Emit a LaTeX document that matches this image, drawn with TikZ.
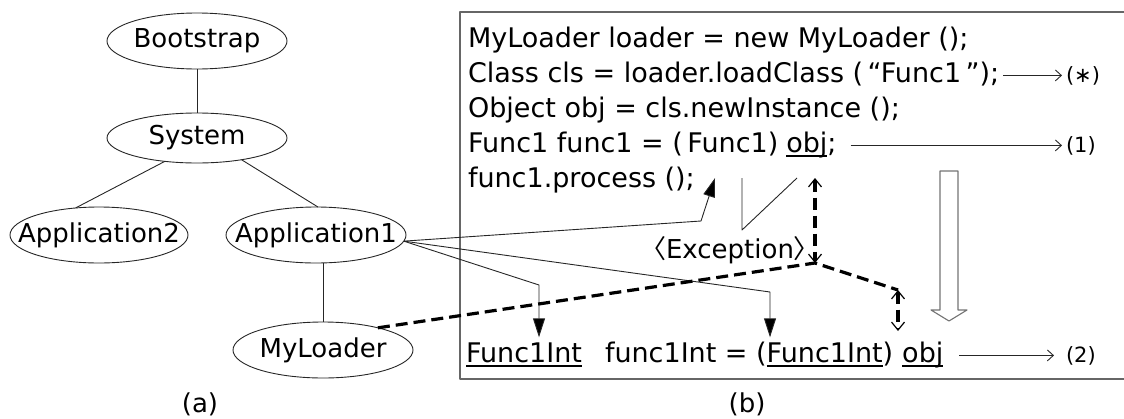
\documentclass[tikz,border=0pt]{standalone}
\usepackage{fontspec}
\setmainfont{DejaVu Sans}
\newfontfamily\jpfont{Noto Sans CJK JP}
\usetikzlibrary{shapes.geometric,arrows.meta,calc}
\newcommand\codefont{\fontsize{27pt}{31pt}\selectfont}
\newcommand\treefont{\fontsize{26pt}{30pt}\selectfont}
\newcommand\tagfont{\fontsize{21pt}{25pt}\selectfont}
\begin{document}
\begin{tikzpicture}[x=1pt,y=-1pt,line join=round,
  every node/.style={inner sep=0pt,outer sep=0pt},
  code/.style={font=\codefont,anchor=base west},
  tag/.style={font=\tagfont,anchor=base west},
  cls/.style={ellipse,draw=black!85,line width=0.9pt,font=\treefont,
    minimum width=180pt,minimum height=56pt},
  edge/.style={draw=black!85,line width=0.9pt},
  frame/.style={draw=black!60,line width=1.1pt},
  pointer/.style={edge,-{Straight Barb[length=6pt,width=11pt]}},
  push/.style={edge,-{Triangle[length=19pt,width=12pt,fill=black]}},
  dashlink/.style={draw=black,line width=3.2pt,dash pattern=on 12pt off 6pt},
  dashtips/.style={dashlink,
    {Straight Barb[length=8pt,width=13pt,line width=1.2pt]}-{Straight Barb[length=8pt,width=13pt,line width=1.2pt]}},
  uline/.style={draw=black,line width=1.5pt},
  hollow/.style={draw=black!55,line width=1.1pt}]
\useasboundingbox (0,0) rectangle (1124,418);

% class loader hierarchy
\node[cls] (boot) at (197,41) {\makebox[0pt]{Bootstrap}};
\node[cls,minimum height=50pt] (sys) at (197,138) {\makebox[0pt]{System}};
\node[cls,minimum width=178pt] (app2) at (99,235) {\makebox[0pt]{Application2}};
\node[cls] (app1) at (316,235) {\makebox[0pt]{Application1}};
\node[cls] (myl) at (323,350) {\makebox[0pt]{MyLoader}};
\draw[edge] (boot) -- (sys);
\draw[edge] (sys.216) -- (app2.131);
\draw[edge] (sys.334) -- (app1.86);
\draw[edge] (myl.north) -- (myl.north |- app1.south);
\node[font=\treefont] (capa) at (200,404) {(a)};

% code panel
\draw[frame] (1124,12) -- (460,12) -- (460,379) -- (1124,379);
\node[code] (l1) at (468,47) {MyLoader loader = new MyLoader ();};
\node[code] (l2) at (468,82) {Class cls = loader.loadClass (\,“Func1\,”);};
\node[code] (l3) at (468,117) {Object obj = cls.newInstance ();};
\node[code] (l4) at (468,152) {Func1 func1 = (\,Func1)};
\node[code] (obja) at ([xshift=8pt]l4.base east) {obj};
\node[code] (semi) at (obja.base east) {;};
\node[code] (l5) at (468,187) {func1.process ();};
\node[code,font=\treefont] (exc) at (640,258) {{\jpfont 〈}Exception{\jpfont 〉}};

\node[code] (fa) at (466,362) {Func1Int};
\node[code] (mid) at (605,362) {func1Int = (};
\node[code] (fb) at (mid.base east) {Func1Int};
\node[code] (rp) at (fb.base east) {)};
\node[code] (objb) at ([xshift=9pt]rp.base east) {obj};

\node[tag] (tstar) at (1066,82) {(∗)};
\node[tag] (tone) at (1066,152) {(1)};
\node[tag] (ttwo) at (1066,362) {(2)};
\node[font=\treefont] (capb) at (747,404) {(b)};

% underlined names
\draw[uline] ($(obja.base west)+(0,4)$) -- ($(obja.base east)+(0,4)$);
\draw[uline] ($(fa.base west)+(0,4)$) -- ($(fa.base east)+(0,4)$);
\draw[uline] ($(fb.base west)+(0,4)$) -- ($(fb.base east)+(0,4)$);
\draw[uline] ($(objb.base west)+(0,4)$) -- ($(objb.base east)+(0,4)$);

% result arrows
\draw[pointer] ([xshift=4pt]l2.east |- tstar.west) -- ([xshift=-4pt]tstar.west);
\draw[pointer] ($(semi.east |- tone.west)+(14,0)$) -- ([xshift=-4pt]tone.west);
\draw[pointer] ($(objb.east |- ttwo.west)+(16,0)$) -- ([xshift=-12pt]ttwo.west);

% calls from Application1
\coordinate (a0) at (app1.-4);
\coordinate (bend1) at (539,285);
\coordinate (bend2) at (770,292);
\coordinate (bend3) at (701,221);
\coordinate (tip3) at (715,178);
\draw[push] (a0) -- (bend1) -- ([yshift=5pt]bend1 |- fa.north);
\draw[push] (a0) -- (bend2) -- ([yshift=5pt]bend2 |- fb.north);
\draw[push] (a0) -- (bend3) -- (tip3);

% cast failure bracket
\coordinate (v1) at (742,178);
\coordinate (v2) at (742,230);
\coordinate (v3) at (797,178);
\draw[edge] (v1) -- (v2) -- (v3);

% loader link
\coordinate (J) at (815,263);
\coordinate (K) at (898,290);
\coordinate (up) at (815,178);
\coordinate (Kd) at (898,331);
\draw[dashlink] (myl.22) -- (J) -- (K);
\draw[dashtips] (up) -- (J);
\draw[dashtips] (K) -- (Kd);

% rewrite step
\draw[hollow] (940,171) -- (958,171) -- (958,310) -- (967,310) -- (949,321)
  -- (931,310) -- (940,310) -- cycle;
\end{tikzpicture}
\end{document}
